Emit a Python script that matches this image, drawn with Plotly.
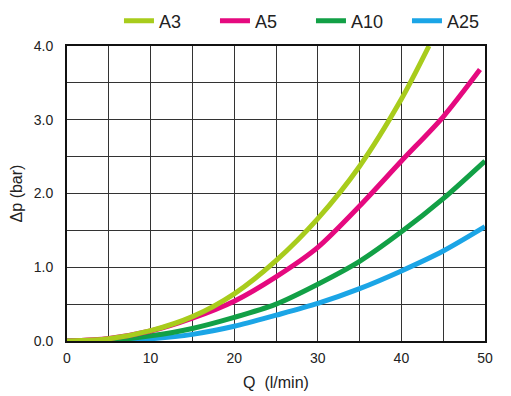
import plotly.graph_objects as go

# Data
q_a3 = [0, 5, 10, 15, 20, 25, 30, 35, 40, 43.3]
dp_a3 = [0, 0.03, 0.14, 0.33, 0.64, 1.09, 1.66, 2.37, 3.28, 4.0]

q_a5 = [0, 5, 10, 15, 20, 25, 30, 35, 40, 45, 49.4]
dp_a5 = [0, 0.035, 0.135, 0.31, 0.54, 0.87, 1.27, 1.83, 2.44, 3.04, 3.68]

q_a10 = [0, 5, 10, 15, 20, 25, 30, 35, 40, 45, 50]
dp_a10 = [0, 0.01, 0.07, 0.17, 0.32, 0.50, 0.77, 1.08, 1.48, 1.93, 2.44]

q_a25 = [0, 5, 10, 15, 20, 25, 30, 35, 40, 45, 50]
dp_a25 = [0, 0.005, 0.03, 0.09, 0.20, 0.35, 0.51, 0.71, 0.95, 1.22, 1.55]

series_names = ["A3", "A5", "A10", "A25"]
series_colors = ["#a8cc1c", "#e5097f", "#12a046", "#1ba5e6"]

x_tick_vals = [0, 10, 20, 30, 40, 50]
x_tick_text = ["0", "10", "20", "30", "40", "50"]
y_tick_vals = [0, 1, 2, 3, 4]
y_tick_text = ["0.0", "1.0", "2.0", "3.0", "4.0"]

series = [(q_a3, dp_a3), (q_a5, dp_a5), (q_a10, dp_a10), (q_a25, dp_a25)]

fig = go.Figure()
# draw in reverse order so A3 sits on top, legend order preserved with legendrank
for i in reversed(range(4)):
    qx, dy = series[i]
    fig.add_trace(go.Scatter(
        x=qx, y=dy, mode="lines", name=series_names[i],
        line=dict(color=series_colors[i], width=5, shape="spline", smoothing=0.8),
        legendrank=i + 1,
    ))

font_family = "Liberation Sans, Arial, sans-serif"

fig.update_layout(
    width=511, height=396,
    margin=dict(l=67, r=26, t=46, b=55, autoexpand=False),
    paper_bgcolor="white", plot_bgcolor="white",
    font=dict(family=font_family, color="#222222", size=14),
    showlegend=True,
    legend=dict(
        orientation="h", x=1.043, xanchor="right", y=1.022, yanchor="bottom",
        font=dict(size=18, color="#222222"),
        entrywidth=51, itemwidth=30,
        bgcolor="rgba(0,0,0,0)", borderwidth=0,
    ),
    xaxis=dict(
        range=[0, 50], tickvals=x_tick_vals, ticktext=x_tick_text,
        showgrid=True, gridcolor="#333333", gridwidth=1,
        minor=dict(dtick=5, showgrid=True, gridcolor="#333333", gridwidth=1),
        showline=True, linecolor="#111111", linewidth=2, mirror=True,
        ticks="", zeroline=False, ticklabelstandoff=3,
        title=dict(text="Q  (l/min)", font=dict(size=16), standoff=12),
        tickfont=dict(size=14),
    ),
    yaxis=dict(
        range=[0, 4], tickvals=y_tick_vals, ticktext=y_tick_text,
        showgrid=True, gridcolor="#333333", gridwidth=1,
        minor=dict(dtick=0.5, showgrid=True, gridcolor="#333333", gridwidth=1),
        showline=True, linecolor="#111111", linewidth=2, mirror=True,
        ticks="", zeroline=False, ticklabelstandoff=9,
        title=dict(text="Δp (bar)", font=dict(size=16), standoff=7),
        tickfont=dict(size=14),
    ),
)

fig.write_html("out.html", config={"displayModeBar": False},
               post_script="document.body.style.margin='0';")
